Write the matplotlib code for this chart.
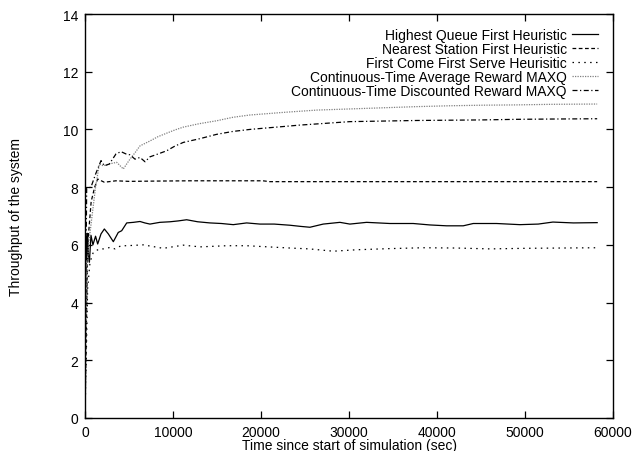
import numpy as np
import matplotlib
matplotlib.use("Agg")
import matplotlib.pyplot as plt

plt.rcParams['font.family'] = ['Liberation Sans', 'DejaVu Sans']

# throughput curves (time in sec)
hq_t = [0, 100, 200, 300, 400, 500, 680, 900, 1200, 1440, 1820, 2200, 2650, 3220,
        3780, 4170, 4740, 5500, 6250, 6800, 7380, 8500, 9660, 10600, 11550, 12800,
        14200, 15500, 16850, 18370, 19880, 21500, 23290, 24500, 25560, 27070, 28970,
        30100, 32000, 34650, 37300, 39190, 41090, 42980, 44120, 46770, 49420, 51500,
        53170, 55500, 58200]
hq_y = [0, 6.3, 5.5, 6.4, 5.6, 5.4, 6.33, 6.0, 6.3, 6.03, 6.38, 6.55, 6.38, 6.11,
        6.43, 6.49, 6.76, 6.78, 6.81, 6.76, 6.72, 6.78, 6.80, 6.83, 6.87, 6.80,
        6.76, 6.74, 6.70, 6.76, 6.72, 6.72, 6.68, 6.64, 6.61, 6.72, 6.78,
        6.72, 6.78, 6.74, 6.74, 6.69, 6.66, 6.66, 6.74, 6.74, 6.70, 6.72,
        6.79, 6.76, 6.77]

ns_t = [0, 300, 700, 1100, 1440, 2200, 3520, 5000, 8000, 12000, 16000, 20220,
        21000, 26000, 32000, 40000, 48000, 58200]
ns_y = [0, 6.0, 7.5, 8.0, 8.28, 8.17, 8.22, 8.20, 8.21, 8.22, 8.22, 8.22,
        8.19, 8.19, 8.19, 8.19, 8.19, 8.19]

fc_t = [0, 300, 570, 940, 1630, 2080, 2840, 3410, 4090, 4740, 6620, 8890, 11170,
        13060, 16100, 18370, 23290, 25500, 28210, 30860, 34650, 38430, 42220,
        46010, 50000, 54000, 58200]
fc_y = [0, 4.5, 5.4, 5.74, 5.86, 5.86, 5.91, 5.86, 5.97, 5.97, 6.00, 5.88, 5.99,
        5.93, 5.97, 5.97, 5.89, 5.86, 5.78, 5.83, 5.87, 5.90, 5.89,
        5.86, 5.88, 5.89, 5.90]

avg_t = [0, 150, 400, 800, 1200, 1630, 2080, 2700, 3600, 4350, 5110, 5700, 6250,
         7380, 8300, 9280, 10200, 11170, 13000, 14960, 16800, 18740, 22530, 26320,
         30100, 33890, 37680, 41460, 45250, 49040, 53000, 58200]
avg_y = [0, 4.5, 6.0, 7.0, 8.0, 8.8, 8.74, 8.8, 8.86, 8.63, 8.97, 9.2, 9.43,
         9.6, 9.75, 9.87, 9.98, 10.08, 10.2, 10.3, 10.42, 10.5, 10.59, 10.67,
         10.71, 10.75, 10.79, 10.82, 10.84, 10.85, 10.87, 10.88]

disc_t = [0, 100, 190, 680, 1200, 1820, 2200, 2760, 3520, 4090, 4660, 5110, 5680,
          6250, 6820, 7380, 8300, 9280, 10200, 11170, 13060, 14960, 16800, 18740,
          20600, 22530, 24400, 26320, 28200, 30100, 33890, 37680, 41460, 45250,
          49040, 53000, 58200]
disc_y = [0, 5.0, 7.96, 8.0, 8.45, 8.92, 8.74, 8.80, 9.15, 9.23, 9.15, 9.12, 8.97,
          9.03, 8.88, 9.05, 9.15, 9.26, 9.42, 9.55, 9.68, 9.83, 9.93, 10.0,
          10.05, 10.1, 10.15, 10.19, 10.23, 10.27, 10.29, 10.31, 10.32, 10.33,
          10.35, 10.36, 10.37]

labels = ['Highest Queue First Heuristic',
          'Nearest Station First Heuristic',
          'First Come First Serve Heurisitic',
          'Continuous-Time Average Reward MAXQ',
          'Continuous-Time Discounted Reward MAXQ']

fig = plt.figure(figsize=(6.34, 4.52), dpi=100)
ax = fig.add_axes([85 / 634, 33 / 452, 528 / 634, 404 / 452])

lw = 0.9
ax.plot(hq_t, hq_y, color='black', lw=lw, label=labels[0])
ax.plot(ns_t, ns_y, color='black', lw=lw, dashes=(3, 2), label=labels[1])
ax.plot(fc_t, fc_y, color='black', lw=lw, dashes=(1.2, 3.5), label=labels[2])
ax.plot(avg_t, avg_y, color='#808080', lw=lw, dashes=(1, 1), label=labels[3])
ax.plot(disc_t, disc_y, color='black', lw=lw, dashes=(4, 2, 1, 2), label=labels[4])

ax.set_xlim(0, 60000)
ax.set_ylim(0, 14)
ax.set_xticks(np.arange(0, 60001, 10000))
ax.set_yticks(np.arange(0, 15, 2))
ax.tick_params(direction='in', top=True, right=True, length=5, width=0.9,
               labelsize=10, pad=5)
for s in ax.spines.values():
    s.set_linewidth(1.0)

ax.set_xlabel('Time since start of simulation (sec)', fontsize=10)
ax.set_ylabel('Throughput of the system', fontsize=10)
ax.xaxis.set_label_coords(0.5, -0.05)
ax.yaxis.set_label_coords(-0.118, 0.5)

ax.legend(loc='upper right', markerfirst=False, frameon=False, fontsize=10,
          handlelength=1.9, handletextpad=0.35, labelspacing=0.0,
          borderaxespad=0.3, bbox_to_anchor=(0.99, 0.99))

fig.savefig('out.png', dpi=100)
